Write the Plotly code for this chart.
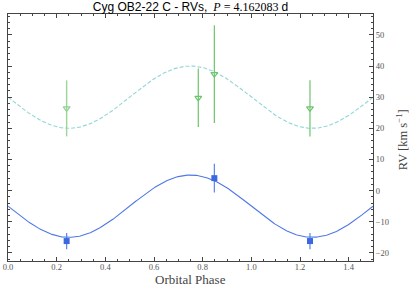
import numpy as np
import plotly.graph_objects as go

# Orbital solution parameters
gamma_p = -5.0   # systemic velocity, primary (blue)
K_p = 10.0       # semi-amplitude, primary
gamma_s = 30.0   # systemic velocity, secondary (green)
K_s = 10.0       # semi-amplitude, secondary

# Observed RVs
phase_p = [0.241, 0.848, 1.241]
rv_p = [-16.2, 4.0, -16.2]
err_p = [2.6, 4.6, 2.6]

phase_s_light = [0.241]
rv_s_light = [26.4]
err_s_light = [9.0]

phase_s = [0.782, 0.848, 1.241]
rv_s = [29.8, 37.4, 26.4]
err_s = [9.4, 15.7, 9.0]

x_ticks = [0.0, 0.2, 0.4, 0.6, 0.8, 1.0, 1.2, 1.4]
y_ticks = [-20, -10, 0, 10, 20, 30, 40, 50]

phi = np.linspace(0, 1.5, 400)
model_p = gamma_p - K_p * np.sin(2 * np.pi * phi)
model_s = gamma_s - K_s * np.sin(2 * np.pi * phi)

fig = go.Figure()
fig.add_trace(go.Scatter(x=phi, y=model_s, mode="lines",
                         line=dict(color="#92d6d6", width=1.1, dash="4px,2px"),
                         showlegend=False))
fig.add_trace(go.Scatter(x=phi, y=model_p, mode="lines",
                         line=dict(color="#4f78e6", width=1.1), showlegend=False))
fig.add_trace(go.Scatter(x=phase_s_light, y=rv_s_light, mode="markers",
                         marker=dict(symbol="triangle-down-open", size=6, color="#8fd08f",
                                     line=dict(width=1.2, color="#8fd08f")),
                         error_y=dict(type="data", array=err_s_light, color="#9ad69a",
                                      thickness=1.4, width=0),
                         showlegend=False))
fig.add_trace(go.Scatter(x=phase_s, y=rv_s, mode="markers",
                         marker=dict(symbol="triangle-down-open", size=6, color="#6cc46c",
                                     line=dict(width=1.2, color="#6cc46c")),
                         error_y=dict(type="data", array=err_s, color="#6cc46c",
                                      thickness=1.2, width=0),
                         showlegend=False))
fig.add_trace(go.Scatter(x=phase_p, y=rv_p, mode="markers",
                         marker=dict(symbol="square", size=6, color="#3a68e0"),
                         error_y=dict(type="data", array=err_p, color="#5a82ec",
                                      thickness=1.2, width=0),
                         showlegend=False))

serif = "Liberation Serif"
fig.update_layout(
    width=415, height=288,
    margin=dict(l=8, r=42, t=14, b=27, autoexpand=False),
    paper_bgcolor="white", plot_bgcolor="white",
    title=dict(text="<span style='font-family:Liberation Sans'>Cyg OB2-22 C - RVs,</span>  <i>P</i> = 4.162083 <span style='font-family:Liberation Sans'>d</span>",
               x=0.5, xref="paper", xanchor="center", y=0.975, yanchor="middle",
               font=dict(family=serif, size=12, color="black")),
    xaxis=dict(range=[0, 1.5], tickvals=x_ticks, ticktext=[f"{v:.1f}" for v in x_ticks],
               ticks="inside", ticklen=4, tickcolor="#444", showline=True, linecolor="#444",
               linewidth=1, mirror="allticks", showgrid=False, zeroline=False,
               automargin=False, ticklabelstandoff=-2,
               minor=dict(dtick=0.05, ticks="inside", ticklen=2, tickcolor="#444", showgrid=False),
               tickfont=dict(family=serif, size=8.5, color="#555555")),
    yaxis=dict(range=[-22.6, 56.7], side="right", tickvals=y_ticks,
               ticks="inside", ticklen=4, tickcolor="#444", showline=True, linecolor="#444",
               linewidth=1, mirror="allticks", showgrid=False, zeroline=False,
               automargin=False,
               minor=dict(dtick=2, ticks="inside", ticklen=2, tickcolor="#444", showgrid=False),
               tickfont=dict(family=serif, size=8.5, color="#555555")),
    annotations=[
        dict(text="Orbital Phase", x=0.5, y=-0.074, xref="paper", yref="paper",
             xanchor="center", yanchor="middle", showarrow=False,
             font=dict(family=serif, size=13, color="#444444")),
        dict(text="RV [km s<sup>−1</sup>]", x=1.08, y=0.49, xref="paper", yref="paper",
             xanchor="center", yanchor="middle", showarrow=False, textangle=-90,
             font=dict(family=serif, size=12.5, color="#444444")),
    ],
)

fig.write_html("out.html", config={"displayModeBar": False},
               post_script="document.body.style.margin='0';document.body.style.overflow='hidden';")
